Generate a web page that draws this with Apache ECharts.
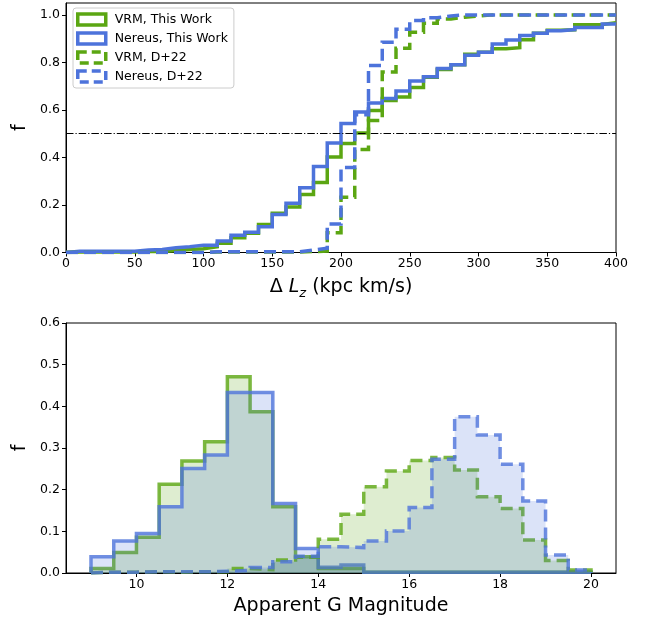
<!DOCTYPE html>
<html><head><meta charset="utf-8">
<script src="https://cdn.jsdelivr.net/npm/echarts@6/dist/echarts.min.js"></script>
<style>html,body{margin:0;padding:0;background:#fff}#c{width:649px;height:617px}</style>
</head><body><div id="c"></div>
<script>
// ---------- DATA ----------
const legendNames = ['VRM, This Work', 'Nereus, This Work', 'VRM, D+22', 'Nereus, D+22'];

// Top panel: cumulative fraction per 10 kpc km/s bin of Delta Lz
const lzEdges = [0,10,20,30,40,50,60,70,80,90,100,110,120,130,140,150,160,170,180,190,200,
                 210,220,230,240,250,260,270,280,290,300,310,320,330,340,350,360,370,380,390,400];
const vrmThisLz = [0.002,0.002,0.002,0.002,0.002,0.004,0.004,0.008,0.013,0.016,
                   0.024,0.039,0.062,0.081,0.118,0.165,0.192,0.244,0.295,0.402,
                   0.459,0.503,0.598,0.640,0.654,0.694,0.738,0.770,0.790,0.834,
                   0.843,0.857,0.862,0.895,0.923,0.935,0.937,0.958,0.960,0.967];
const nerThisLz = [0.005,0.005,0.005,0.005,0.005,0.011,0.013,0.020,0.024,0.031,
                   0.031,0.048,0.073,0.085,0.108,0.160,0.207,0.273,0.362,0.461,
                   0.543,0.591,0.629,0.648,0.680,0.722,0.740,0.774,0.790,0.830,
                   0.843,0.877,0.894,0.913,0.923,0.933,0.938,0.947,0.947,0.962];
const vrmD22Lz  = [0,0,0,0,0,0,0,0,0,0,
                   0.002,0.002,0.002,0.002,0.002,0.002,0.002,0.004,0.006,0.083,
                   0.232,0.433,0.556,0.760,0.860,0.927,0.965,0.983,0.990,0.995,
                   1,1,1,1,1,1,1,1,1,1];
const nerD22Lz  = [0,0,0,0,0,0,0,0,0,0,
                   0.003,0.003,0.003,0.003,0.003,0.003,0.003,0.010,0.018,0.120,
                   0.358,0.580,0.787,0.885,0.940,0.976,0.988,0.995,1,1,
                   1,1,1,1,1,1,1,1,1,1];
const halfLevel = 0.5;
const fTicksTop = [0, 0.2, 0.4, 0.6, 0.8, 1.0];

// Bottom panel: normalised histogram of apparent G magnitude, 0.5 mag bins
const magEdges = [9,9.5,10,10.5,11,11.5,12,12.5,13,13.5,14,14.5,15,15.5,16,16.5,17,17.5,18,18.5,19,19.5,20];
const vrmThisMag = [0.011,0.049,0.086,0.213,0.269,0.315,0.471,0.387,0.159,0.039,0.011,
                    0.011,0.002,0.002,0.002,0.002,0.002,0.002,0.002,0.002,0.002,0.002];
const nerThisMag = [0.039,0.077,0.095,0.159,0.251,0.283,0.433,0.433,0.167,0.059,0.014,
                    0.019,0.002,0.002,0.002,0.002,0.002,0.002,0.002,0.002,0.002,0.002];
const vrmD22Mag  = [0.002,0.002,0.003,0.002,0.003,0.003,0.011,0.008,0.031,0.038,0.081,
                    0.141,0.207,0.245,0.270,0.277,0.247,0.183,0.155,0.079,0.030,0.007];
const nerD22Mag  = [0.002,0.002,0.003,0.003,0.003,0.004,0.006,0.013,0.027,0.040,0.063,
                    0.061,0.077,0.101,0.157,0.273,0.375,0.331,0.261,0.173,0.043,0.007];
const magTicks = [10, 12, 14, 16, 18, 20];
const fTicksBottom = [0, 0.1, 0.2, 0.3, 0.4, 0.5, 0.6];

// ---------- CHART ----------
const FONT = 'DejaVu Sans';
const GREEN = '#5ba612', BLUE = '#4d73db';
const DASH = [12, 6];
const colors = [GREEN, BLUE, GREEN, BLUE];
const dashed = [false, false, true, true];

function steps(edges, vals, closeRight) {
  const d = [[edges[0], 0]];
  for (let i = 0; i < vals.length; i++) d.push([edges[i], vals[i]]);
  d.push([edges[edges.length - 1], vals[vals.length - 1]]);
  if (closeRight) d.push([edges[edges.length - 1], 0]);
  return d;
}

const topVals = [vrmThisLz, nerThisLz, vrmD22Lz, nerD22Lz];
const botVals = [vrmThisMag, nerThisMag, vrmD22Mag, nerD22Mag];

const series = [];
topVals.forEach((v, i) => {
  const s = {
    name: legendNames[i], type: 'line', xAxisIndex: 0, yAxisIndex: 0,
    step: 'end', showSymbol: false, symbol: 'none', silent: true, z: 3 + i,
    data: steps(lzEdges, v, false),
    lineStyle: { color: colors[i], width: 3.5, type: dashed[i] ? DASH : 'solid', cap: 'butt', join: 'miter' },
    itemStyle: { color: colors[i] }
  };
  if (i === 0) {
    s.markLine = {
      silent: true, symbol: ['none', 'none'], label: { show: false },
      lineStyle: { color: '#000', width: 1, type: [7.5, 2, 1.2, 2] },
      data: [{ yAxis: halfLevel }]
    };
  }
  series.push(s);
});
botVals.forEach((v, i) => {
  series.push({
    name: legendNames[i] + ' (G)', type: 'line', xAxisIndex: 1, yAxisIndex: 1,
    step: 'end', showSymbol: false, symbol: 'none', silent: true, z: 3 + i,
    data: steps(magEdges, v, true),
    lineStyle: { color: colors[i], width: 3.5, opacity: 0.8, type: dashed[i] ? DASH : 'solid', cap: 'butt', join: 'miter' },
    areaStyle: { color: colors[i], opacity: 0.2 },
    itemStyle: { color: colors[i] }
  });
});

const magSpan = magEdges[magEdges.length - 1] - magEdges[0];
const magMin = magEdges[0] - 0.05 * magSpan;
const magMax = magEdges[magEdges.length - 1] + 0.05 * magSpan;

const tickLbl = { color: '#000', fontSize: 12.5, fontFamily: FONT };
const axLine = { show: true, lineStyle: { color: '#000', width: 1 } };
const axTick = { show: true, length: 4, inside: false, lineStyle: { color: '#000', width: 1 } };
const nameStyle = { color: '#000', fontSize: 19, fontFamily: FONT };

const option = {
  animation: false,
  backgroundColor: '#fff',
  textStyle: { fontFamily: FONT },
  legend: {
    show: true, orient: 'vertical', left: 73, top: 8,
    padding: [4, 6, 4, 3], itemGap: 4, itemWidth: 28, itemHeight: 11,
    backgroundColor: 'rgba(255,255,255,0.8)', borderColor: '#cccccc', borderWidth: 1, borderRadius: 3,
    selectedMode: false,
    textStyle: { color: '#000', fontSize: 12.5, fontFamily: FONT, lineHeight: 15, padding: [0, 0, 0, 4] },
    data: legendNames.map((n, i) => ({
      name: n, icon: 'rect',
      itemStyle: { color: 'rgba(0,0,0,0)', borderColor: colors[i], borderWidth: 3.5,
                   borderType: dashed[i] ? [9, 5] : 'solid' }
    }))
  },
  grid: [
    { left: 66, right: 33, top: 3, height: 249.5, show: true, borderColor: '#000', borderWidth: 1, backgroundColor: 'transparent' },
    { left: 66, right: 33, top: 323, height: 250, show: true, borderColor: '#000', borderWidth: 1, backgroundColor: 'transparent' }
  ],
  xAxis: [
    { gridIndex: 0, type: 'value', min: lzEdges[0], max: lzEdges[lzEdges.length - 1], interval: 50,
      axisLine: axLine, axisTick: axTick, splitLine: { show: false },
      axisLabel: Object.assign({ margin: 5 }, tickLbl),
      name: '\u0394 {it|L}{sub|z} (kpc km/s)', nameLocation: 'middle', nameGap: 22,
      nameTextStyle: Object.assign({}, nameStyle, { lineHeight: 26, rich: {
        it: { fontStyle: 'italic', fontSize: 19, fontFamily: FONT, color: '#000', lineHeight: 26 },
        sub: { fontStyle: 'italic', fontSize: 13, fontFamily: FONT, color: '#000', lineHeight: 18, verticalAlign: 'bottom' }
      } }) },
    { gridIndex: 1, type: 'value', min: magMin, max: magMax,
      axisLine: axLine, axisTick: Object.assign({ customValues: magTicks }, axTick), splitLine: { show: false },
      axisLabel: Object.assign({ margin: 5, customValues: magTicks, formatter: v => String(Math.round(v)) }, tickLbl),
      name: 'Apparent G Magnitude', nameLocation: 'middle', nameGap: 24, nameTextStyle: nameStyle }
  ],
  yAxis: [
    { gridIndex: 0, type: 'value', min: 0, max: 1.05,
      axisLine: axLine, axisTick: Object.assign({ customValues: fTicksTop }, axTick), splitLine: { show: false },
      axisLabel: Object.assign({ margin: 6, customValues: fTicksTop, formatter: v => v.toFixed(1) }, tickLbl),
      name: 'f', nameLocation: 'middle', nameRotate: 90, nameGap: 30, nameTextStyle: nameStyle },
    { gridIndex: 1, type: 'value', min: 0, max: 0.6,
      axisLine: axLine, axisTick: Object.assign({ customValues: fTicksBottom }, axTick), splitLine: { show: false },
      axisLabel: Object.assign({ margin: 6, customValues: fTicksBottom, formatter: v => v.toFixed(1) }, tickLbl),
      name: 'f', nameLocation: 'middle', nameRotate: 90, nameGap: 30, nameTextStyle: nameStyle }
  ],
  series: series
};

const chart = echarts.init(document.getElementById('c'), null, { renderer: 'canvas', width: 649, height: 617 });
chart.setOption(option);
</script>
</body></html>
